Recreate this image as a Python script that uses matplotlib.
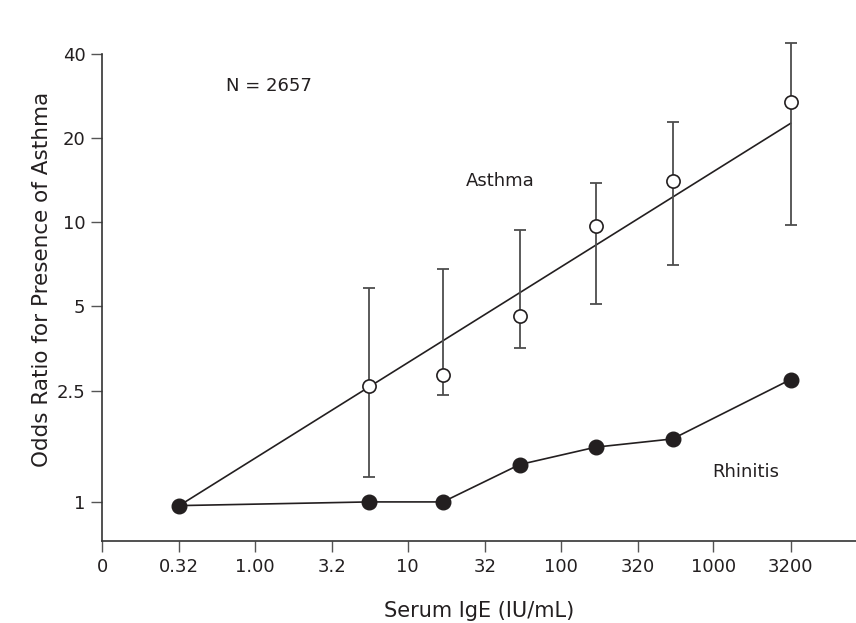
import matplotlib.pyplot as plt
import numpy as np

# serum IgE bins (geometric midpoints, IU/mL)
ige = [0.32, 5.6, 17, 54, 170, 540, 3200]

rhinitis_or = [0.97, 1.0, 1.0, 1.36, 1.57, 1.68, 2.74]

# asthma odds ratios with 95% CI (no point for the reference bin)
asthma_x = [5.6, 17, 54, 170, 540, 3200]
asthma_or = [2.59, 2.85, 4.64, 9.7, 14.0, 26.9]
asthma_lo = [1.23, 2.42, 3.56, 5.11, 7.03, 9.75]
asthma_hi = [5.83, 6.82, 9.38, 13.8, 22.8, 43.8]

# fitted trend line for asthma
fit_x = [0.32, 3200]
fit_y = [0.97, 22.6]

xtick_pos = [0.1, 0.32, 1, 3.2, 10, 32, 100, 320, 1000, 3200]
xtick_lab = ['0', '0.32', '1.00', '3.2', '10', '32', '100', '320', '1000', '3200']
ytick_pos = [1, 2.5, 5, 10, 20, 40]
ytick_lab = ['1', '2.5', '5', '10', '20', '40']

plt.rcParams['font.family'] = 'DejaVu Sans'
ink = '#231f20'

fig = plt.figure(figsize=(8.56, 6.23), dpi=100)
ax = fig.add_axes([0.1192, 0.1316, 0.8808, 0.7817])

ax.plot(fit_x, fit_y, color=ink, lw=1.2, zorder=2)
ax.plot(ige, rhinitis_or, color=ink, lw=1.2, marker='o', ms=10.5,
        mfc=ink, mec=ink, zorder=4, clip_on=False)

err = [np.array(asthma_or) - np.array(asthma_lo),
       np.array(asthma_hi) - np.array(asthma_or)]
ax.errorbar(asthma_x, asthma_or, yerr=err, fmt='none', ecolor='#4d4d4d',
            elinewidth=1.3, capsize=4.5, capthick=1.3, zorder=3, clip_on=False)
ax.plot(asthma_x, asthma_or, ls='none', marker='o', ms=9.5, mfc='white',
        mec=ink, mew=1.2, zorder=5, clip_on=False)

ax.set_xscale('log')
ax.set_yscale('log')
ax.set_xlim(0.1, 8570)
ax.set_ylim(0.7247, 40)

ax.set_xticks(xtick_pos)
ax.set_xticklabels(xtick_lab)
ax.set_yticks(ytick_pos)
ax.set_yticklabels(ytick_lab)
ax.minorticks_off()
ax.tick_params(axis='both', direction='out', length=8, width=1.0,
               color='#555555', labelsize=13, labelcolor=ink, pad=4)

for s in ['top', 'right']:
    ax.spines[s].set_visible(False)
for s in ['left', 'bottom']:
    ax.spines[s].set_color('#333333')
    ax.spines[s].set_linewidth(1.2)

ax.set_xlabel('Serum IgE (IU/mL)', fontsize=15, color=ink)
ax.set_ylabel('Odds Ratio for Presence of Asthma', fontsize=15.5, color=ink)
ax.xaxis.set_label_coords(0.50, -0.123)
ax.yaxis.set_label_coords(-0.066, 0.538)

ax.text(0.645, 30.8, 'N = 2657', fontsize=13, color=ink, va='center')
ax.text(24, 14.0, 'Asthma', fontsize=13, color=ink, va='center')
ax.text(977, 1.28, 'Rhinitis', fontsize=13, color=ink, va='center')

fig.savefig('out.png', dpi=100)
